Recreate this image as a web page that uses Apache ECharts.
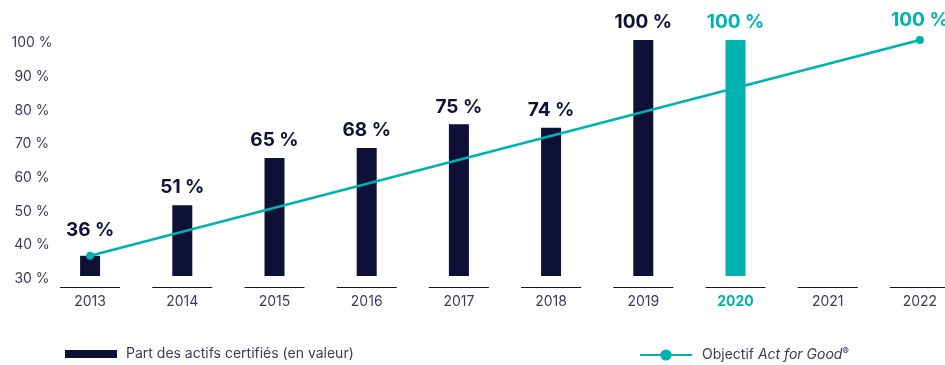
<!DOCTYPE html>
<html>
<head>
<meta charset="utf-8">
<script src="https://cdn.jsdelivr.net/npm/echarts@6/dist/echarts.min.js"></script>
<style>
  html, body { margin: 0; padding: 0; background: #ffffff; overflow: hidden; }
  /* the plot runs past the right edge of the window, so the canvas is wider */
  #chart { width: 970px; height: 365px; }
</style>
</head>
<body>
<div id="chart"></div>
<script>
// Categories and values
const years = ['2013', '2014', '2015', '2016', '2017', '2018', '2019', '2020', '2021', '2022'];
const certifiedShare = [36, 51, 65, 68, 75, 74, 100, 100, null, null];
const targetLine = [36, null, null, null, null, null, null, null, null, 100];
const yTicks = [30, 40, 50, 60, 70, 80, 90, 100];
const highlightYear = '2020';

const NAVY = '#0e1036';
const TEAL = '#00b2af';
const TEXT = '#3c3c5a';
const FONT = 'Inter, "Noto Sans", sans-serif';

const barSeriesName = 'Part des actifs certifiés (en valeur)';
const lineSeriesName = 'Objectif Act for Good®';

const barData = certifiedShare.map((v, i) => {
  if (v === null) return null;
  const item = { value: v };
  if (years[i] === highlightYear) {
    item.itemStyle = { color: TEAL };
    item.label = { color: TEAL };
  }
  if (i === 0) {
    item.label = Object.assign({}, item.label, { distance: 16 });
  }
  return item;
});

const lineData = targetLine.map((v, i) => {
  if (v === null) return null;
  if (i === targetLine.length - 1) {
    return { value: v, label: { show: true } };
  }
  return v;
});

const chart = echarts.init(document.getElementById('chart'), null, { renderer: 'canvas' });

chart.setOption({
  animation: false,
  textStyle: { fontFamily: FONT },
  grid: { left: 44, right: 4, top: 40, bottom: 89 },
  legend: [
    {
      data: [barSeriesName],
      left: 65, top: 347, padding: 0,
      itemWidth: 52, itemHeight: 8, itemGap: 10,
      icon: 'rect',
      textStyle: { color: TEXT, fontSize: 14, fontFamily: FONT, padding: [0, 0, 0, 4] },
      selectedMode: false
    },
    {
      data: [lineSeriesName],
      left: 639, top: 347, padding: 0,
      itemWidth: 52, itemHeight: 14, itemGap: 10,
      textStyle: {
        color: TEXT, fontSize: 14, fontFamily: FONT,
        rich: {
          n: { color: TEXT, fontSize: 14, fontFamily: FONT, padding: [0, 0, 0, 5] },
          i: { color: TEXT, fontSize: 14, fontFamily: FONT, fontStyle: 'italic' },
          s: { color: TEXT, fontSize: 10, fontFamily: FONT, verticalAlign: 'top', padding: [0, 0, 6, 0] }
        }
      },
      formatter: () => '{n|Objectif }{i|Act for Good}{s|®}',
      selectedMode: false
    }
  ],
  xAxis: {
    type: 'category',
    data: years,
    boundaryGap: true,
    axisLine: { show: false },
    axisTick: { show: false },
    axisLabel: {
      color: TEXT,
      fontSize: 14,
      fontFamily: FONT,
      margin: 19,
      formatter: v => v === highlightYear ? '{h|' + v + '}' : v,
      rich: {
        h: { color: TEAL, fontWeight: 'bold', fontSize: 14, fontFamily: FONT }
      }
    }
  },
  yAxis: {
    type: 'value',
    min: yTicks[0],
    max: yTicks[yTicks.length - 1],
    interval: 10,
    axisLine: { show: false },
    axisTick: { show: false },
    splitLine: { show: false },
    axisLabel: {
      color: TEXT,
      fontSize: 14,
      fontFamily: FONT,
      align: 'center',
      margin: 12,
      formatter: v => '{t|' + v + ' %}',
      rich: {
        t: { color: TEXT, fontSize: 14, fontFamily: FONT, padding: [6, 0, 0, 0] }
      }
    }
  },
  series: [
    {
      // short baseline segment under each year
      type: 'custom',
      silent: true,
      data: years.map((y, i) => i),
      renderItem: (params, api) => {
        const p = api.coord([api.value(0), yTicks[0]]);
        const y = Math.round(p[1]) + 11.5;
        return {
          type: 'line',
          shape: { x1: p[0] - 30, y1: y, x2: p[0] + 30, y2: y },
          style: { stroke: '#14142a', lineWidth: 1.2 }
        };
      },
      z: 1
    },
    {
      name: barSeriesName,
      type: 'bar',
      data: barData,
      barWidth: 20,
      itemStyle: { color: NAVY },
      label: {
        show: true,
        position: 'top',
        distance: 8,
        color: NAVY,
        fontSize: 19,
        fontWeight: 'bold',
        fontFamily: FONT,
        formatter: p => p.value + ' %'
      },
      z: 2
    },
    {
      name: lineSeriesName,
      type: 'line',
      data: lineData,
      connectNulls: true,
      symbol: 'circle',
      symbolSize: 8,
      lineStyle: { color: TEAL, width: 2.5 },
      itemStyle: { color: TEAL },
      label: {
        show: false,
        position: 'top',
        distance: 6,
        color: TEAL,
        fontSize: 19,
        fontWeight: 'bold',
        fontFamily: FONT,
        formatter: p => p.value + ' %'
      },
      z: 3
    }
  ]
});
</script>
</body>
</html>
